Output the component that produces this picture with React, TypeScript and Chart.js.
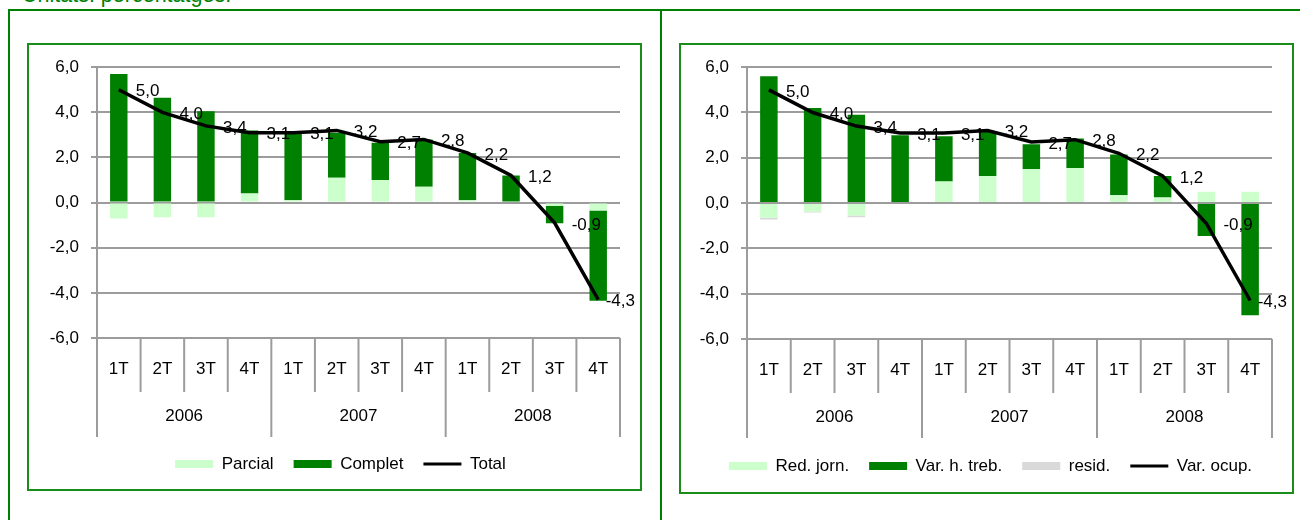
import React, { useEffect, useRef } from 'react';
import { Chart, registerables } from 'chart.js';

Chart.register(...registerables);

// ---------- data ----------
const quarters = ['1T', '2T', '3T', '4T', '1T', '2T', '3T', '4T', '1T', '2T', '3T', '4T'];
const years = ['2006', '2007', '2008'];

// left chart
const parcial = [-0.7, -0.65, -0.65, 0.4, 0.1, 1.1, 1.0, 0.7, 0.1, 0.0, -0.15, -0.35];
const complet = [5.7, 4.65, 4.05, 2.8, 2.95, 2.0, 1.65, 2.1, 2.1, 1.2, -0.77, -4.0];
const total = [5.0, 4.0, 3.4, 3.1, 3.1, 3.2, 2.7, 2.8, 2.2, 1.2, -0.9, -4.3];

// right chart
const redJorn = [-0.65, -0.37, -0.55, 0.0, 0.95, 1.2, 1.5, 1.55, 0.35, 0.25, 0.5, 0.5];
const varHTreb = [5.6, 4.2, 3.9, 3.0, 2.0, 1.95, 1.1, 1.3, 1.8, 0.95, -1.45, -4.95];
const resid = [-0.07, -0.05, -0.07, 0, 0, 0, 0, 0, 0, 0, 0, 0];
const varOcup = [5.0, 4.0, 3.4, 3.1, 3.1, 3.2, 2.7, 2.8, 2.2, 1.2, -0.9, -4.3];

const yTicks = [-6, -4, -2, 0, 2, 4, 6];

// ---------- style ----------
const LIGHT = '#ccffcc';
const DARK = '#008000';
const GREY = '#d9d9d9';
const GRID = '#9c9c9c';
const FRAME = '#1a8c1a';
const FONT = "'Liberation Sans', Arial, sans-serif";

const fmt = (v: number) => Number(v).toFixed(1).replace('.', ',');

const separatorsPlugin = {
  id: 'groupSeparators',
  afterDraw(chart: any) {
    const x = chart.scales.x;
    const x2 = chart.scales.x2;
    const ctx = chart.ctx;
    const n = chart.data.labels.length;
    const step = x.getPixelForValue(1) - x.getPixelForValue(0);
    const first = x.getPixelForValue(0);
    ctx.save();
    ctx.strokeStyle = GRID;
    ctx.lineWidth = 2;
    for (let i = 0; i <= n; i++) {
      const px = first + (i - 0.5) * step;
      const yEnd = i % 4 === 0 ? x2.top + 45 : x.bottom;
      ctx.beginPath();
      ctx.moveTo(px, chart.chartArea.bottom);
      ctx.lineTo(px, yEnd);
      ctx.stroke();
    }
    ctx.restore();
  },
};

const lineLabelsPlugin = {
  id: 'lineLabels',
  afterDatasetsDraw(chart: any) {
    const idx = chart.data.datasets.findIndex((d: any) => d.type === 'line');
    if (idx < 0) return;
    const meta = chart.getDatasetMeta(idx);
    const data = chart.data.datasets[idx].data;
    const ctx = chart.ctx;
    ctx.save();
    ctx.font = `17px ${FONT}`;
    ctx.fillStyle = '#000';
    ctx.textBaseline = 'middle';
    ctx.textAlign = 'left';
    meta.data.forEach((pt: any, i: number) => {
      const txt = fmt(data[i]);
      const w = ctx.measureText(txt).width;
      let xx = pt.x + 17;
      if (xx + w > chart.width - 5) xx = chart.width - 5 - w;
      ctx.fillText(txt, xx, pt.y + 2);
    });
    ctx.restore();
  },
};

const legendShift = (dx: number) => ({
  id: 'legendShift',
  afterLayout(chart: any) {
    const l = chart.legend;
    if (l) {
      l.left += dx;
      l.right += dx;
    }
  },
});

type BarSpec = { label: string; data: number[]; color: string };

function makeConfig(
  bars: BarSpec[],
  line: { label: string; data: number[] },
  geo: { top: number; right: number; bottom: number; yWidth: number; x2Height: number; legendDx: number }
): any {
  const datasets: any[] = bars.map((b) => ({
    type: 'bar',
    label: b.label,
    data: b.data,
    backgroundColor: b.color,
    borderWidth: 0,
    barPercentage: 0.4,
    categoryPercentage: 1,
    stack: 'bars',
    order: 1,
  }));
  datasets.push({
    type: 'line',
    label: line.label,
    data: line.data,
    borderColor: '#000',
    backgroundColor: '#000',
    borderWidth: 3.5,
    pointRadius: 0,
    tension: 0,
    stack: 'line',
    order: 0,
  });
  const tickFont = { size: 17, family: FONT };
  return {
    type: 'bar',
    data: { labels: quarters, datasets },
    options: {
      responsive: false,
      maintainAspectRatio: false,
      animation: false,
      layout: { padding: { top: geo.top, right: geo.right, bottom: geo.bottom, left: 0 } },
      plugins: {
        tooltip: { enabled: false },
        legend: {
          position: 'bottom',
          labels: {
            usePointStyle: true,
            pointStyleWidth: 38,
            boxHeight: 8,
            padding: 20,
            color: '#000',
            font: { size: 17, family: FONT },
            sort: (a: any, b: any) => a.datasetIndex - b.datasetIndex,
            generateLabels(chart: any) {
              const items = (Chart as any).defaults.plugins.legend.labels.generateLabels(chart);
              return items.map((it: any) => {
                const ds = chart.data.datasets[it.datasetIndex];
                if (ds.type === 'line') {
                  return { ...it, pointStyle: 'line', lineWidth: 3, strokeStyle: '#000', fillStyle: '#000' };
                }
                return { ...it, pointStyle: 'rect', lineWidth: 0 };
              });
            },
          },
        },
      },
      scales: {
        x: {
          type: 'category',
          stacked: true,
          grid: { display: false, drawTicks: false },
          border: { display: false },
          ticks: { padding: 21, font: tickFont, color: '#000', maxRotation: 0, autoSkip: false },
          afterFit(s: any) {
            s.height = 54;
          },
        },
        x2: {
          type: 'category',
          labels: years,
          position: 'bottom',
          offset: true,
          grid: { display: false, drawTicks: false },
          border: { display: false },
          ticks: { padding: 14, font: tickFont, color: '#000', maxRotation: 0, autoSkip: false },
          afterFit(s: any) {
            s.height = geo.x2Height;
          },
        },
        y: {
          stacked: true,
          min: yTicks[0],
          max: yTicks[yTicks.length - 1],
          afterBuildTicks(s: any) {
            s.ticks = yTicks.map((v) => ({ value: v }));
          },
          ticks: { callback: (v: any) => fmt(v), padding: 12, font: tickFont, color: '#000' },
          grid: { color: GRID, lineWidth: 2, tickLength: 6, drawTicks: true },
          border: { color: GRID, width: 2 },
          afterFit(s: any) {
            s.width = geo.yWidth;
          },
        },
      },
    },
    plugins: [separatorsPlugin, lineLabelsPlugin, legendShift(geo.legendDx)],
  };
}

function ChartBox({ left, top, width, height, config }: any) {
  const ref = useRef<HTMLCanvasElement | null>(null);
  useEffect(() => {
    if (!ref.current) return;
    const chart = new Chart(ref.current, config);
    return () => chart.destroy();
  }, []);
  return (
    <div style={{ position: 'absolute', left, top, width, height }}>
      <canvas ref={ref} width={width} height={height} style={{ display: 'block', width, height }} />
    </div>
  );
}

export default function App() {
  const leftConfig = makeConfig(
    [
      { label: 'Parcial', data: parcial, color: LIGHT },
      { label: 'Complet', data: complet, color: DARK },
    ],
    { label: 'Total', data: total },
    { top: 21, right: 20, bottom: 6.5, yWidth: 68, x2Height: 43.5, legendDx: 16 }
  );
  const rightConfig = makeConfig(
    [
      { label: 'Red. jorn.', data: redJorn, color: LIGHT },
      { label: 'Var. h. treb.', data: varHTreb, color: DARK },
      { label: 'resid.', data: resid, color: GREY },
    ],
    { label: 'Var. ocup.', data: varOcup },
    { top: 20, right: 20, bottom: 7.5, yWidth: 66, x2Height: 44.5, legendDx: 14 }
  );

  return (
    <div
      style={{
        position: 'absolute',
        left: 0,
        top: 0,
        width: 1300,
        height: 520,
        overflow: 'hidden',
        background: '#fff',
        fontFamily: FONT,
      }}
    >
      <div
        style={{
          position: 'absolute',
          left: 22,
          top: -15,
          fontSize: 21.5,
          color: DARK,
          whiteSpace: 'nowrap',
          lineHeight: 1,
        }}
      >
        Unitats: percentatges.
      </div>
      <div
        style={{
          position: 'absolute',
          left: 8,
          top: 9,
          width: 1400,
          height: 700,
          border: `2px solid ${DARK}`,
          boxSizing: 'border-box',
        }}
      />
      <div style={{ position: 'absolute', left: 660, top: 10, width: 2, height: 520, background: DARK }} />
      <div
        style={{
          position: 'absolute',
          left: 27,
          top: 43,
          width: 615,
          height: 448,
          border: `2px solid ${FRAME}`,
          boxSizing: 'border-box',
        }}
      />
      <div
        style={{
          position: 'absolute',
          left: 679,
          top: 43,
          width: 615,
          height: 451,
          border: `2px solid ${FRAME}`,
          boxSizing: 'border-box',
        }}
      />
      <ChartBox left={29} top={45} width={611} height={444} config={leftConfig} />
      <ChartBox left={681} top={45} width={611} height={447} config={rightConfig} />
    </div>
  );
}
